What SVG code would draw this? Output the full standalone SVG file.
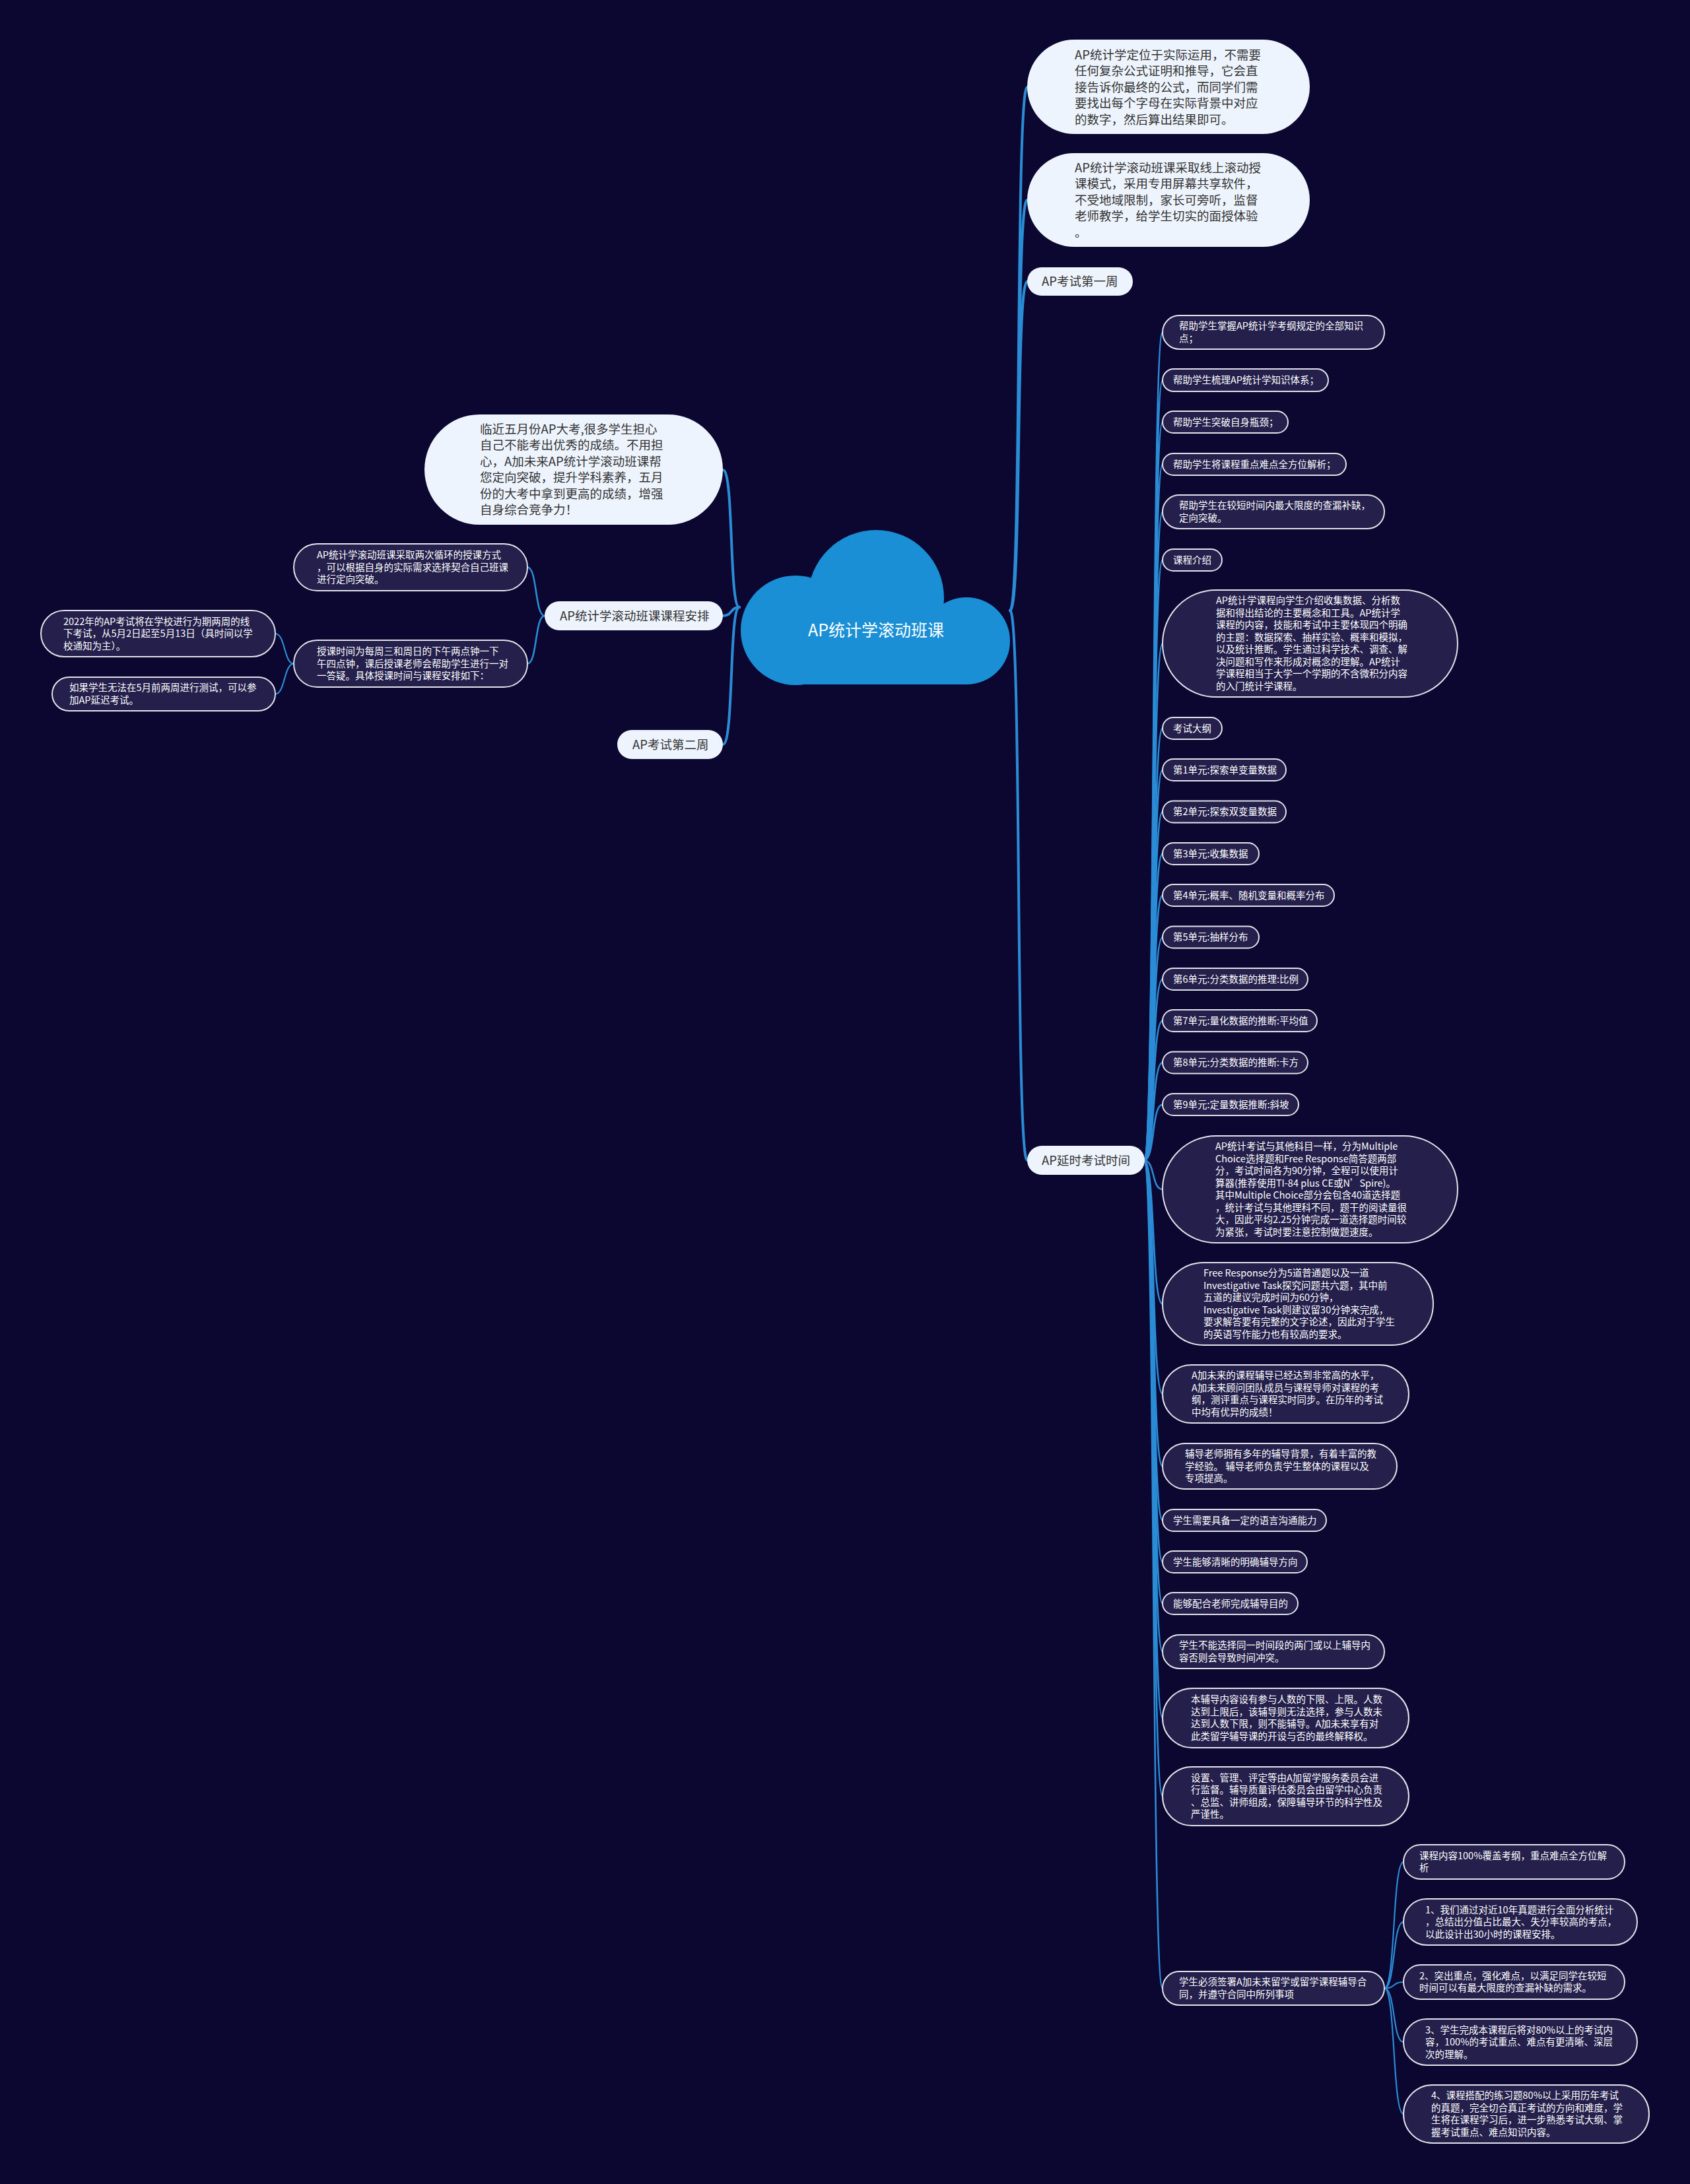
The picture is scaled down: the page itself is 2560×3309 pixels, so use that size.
<svg xmlns="http://www.w3.org/2000/svg" width="2560" height="3309" viewBox="0 0 2560 3309">
<style>
.bg{fill:#0b0730}
.conn path{fill:none;stroke:#2b8cd6;stroke-linecap:round}
.c1{stroke-width:4}
.c2{stroke-width:2.6}
.c3{stroke-width:2.2}
.light rect{fill:#eef4fd}
.dark rect{fill:#241f4b;stroke:#e2e2ea;stroke-width:2}
.lt{font-family:"Noto Sans CJK SC","Noto Sans",sans-serif;font-size:18.5px;fill:#333333}
.dt{font-family:"Noto Sans CJK SC","Noto Sans",sans-serif;font-size:14.5px;fill:#ffffff}
.rt{font-family:"Noto Sans CJK SC","Noto Sans",sans-serif;font-size:25px;fill:#ffffff}
.cloud{fill:#1a8fd5}
</style>
<rect class="bg" x="0" y="0" width="2560" height="3309"/>

<g id="connectors" class="conn">
<!-- root right -->
<path class="c1" d="M1530 925 C1548 925 1538 132 1556 132"/>
<path class="c1" d="M1530 925 C1548 925 1538 303 1556 303"/>
<path class="c1" d="M1530 925 C1548 925 1538 426.5 1556 426.5"/>
<path class="c1" d="M1530 925 C1548 925 1538 1758 1556 1758"/>
<!-- root left -->
<path class="c1" d="M1120 920 C1104 920 1112 712 1095 712"/>
<path class="c1" d="M1120 920 C1106 920 1110 933 1095 933"/>
<path class="c1" d="M1120 920 C1104 920 1112 1128 1095 1128"/>
<!-- left level 2 -->
<path class="c2" d="M825 933 C810 933 814 859.5 799 859.5"/>
<path class="c2" d="M825 933 C810 933 814 1005.5 799 1005.5"/>
<!-- left level 3 -->
<path class="c3" d="M445 1005.5 C430 1005.5 432 960 417 960"/>
<path class="c3" d="M445 1005.5 C430 1005.5 432 1051.5 417 1051.5"/>
<!-- AP延时考试时间 children -->
<path class="c2" d="M1733 1758 C1750 1758 1744 503.5 1761 503.5"/>
<path class="c2" d="M1733 1758 C1750 1758 1744 576 1761 576"/>
<path class="c2" d="M1733 1758 C1750 1758 1744 639.5 1761 639.5"/>
<path class="c2" d="M1733 1758 C1750 1758 1744 703.5 1761 703.5"/>
<path class="c2" d="M1733 1758 C1750 1758 1744 775.5 1761 775.5"/>
<path class="c2" d="M1733 1758 C1750 1758 1744 848.5 1761 848.5"/>
<path class="c2" d="M1733 1758 C1750 1758 1744 975 1761 975"/>
<path class="c2" d="M1733 1758 C1750 1758 1744 1103.5 1761 1103.5"/>
<path class="c2" d="M1733 1758 C1750 1758 1744 1166.5 1761 1166.5"/>
<path class="c2" d="M1733 1758 C1750 1758 1744 1230 1761 1230"/>
<path class="c2" d="M1733 1758 C1750 1758 1744 1293.5 1761 1293.5"/>
<path class="c2" d="M1733 1758 C1750 1758 1744 1356.5 1761 1356.5"/>
<path class="c2" d="M1733 1758 C1750 1758 1744 1420 1761 1420"/>
<path class="c2" d="M1733 1758 C1750 1758 1744 1483.5 1761 1483.5"/>
<path class="c2" d="M1733 1758 C1750 1758 1744 1546.5 1761 1546.5"/>
<path class="c2" d="M1733 1758 C1750 1758 1744 1610 1761 1610"/>
<path class="c2" d="M1733 1758 C1750 1758 1744 1673.5 1761 1673.5"/>
<path class="c2" d="M1733 1758 C1750 1758 1744 1802 1761 1802"/>
<path class="c2" d="M1733 1758 C1750 1758 1744 1975.5 1761 1975.5"/>
<path class="c2" d="M1733 1758 C1750 1758 1744 2112 1761 2112"/>
<path class="c2" d="M1733 1758 C1750 1758 1744 2221.5 1761 2221.5"/>
<path class="c2" d="M1733 1758 C1750 1758 1744 2303.5 1761 2303.5"/>
<path class="c2" d="M1733 1758 C1750 1758 1744 2366.5 1761 2366.5"/>
<path class="c2" d="M1733 1758 C1750 1758 1744 2429.5 1761 2429.5"/>
<path class="c2" d="M1733 1758 C1750 1758 1744 2502.5 1761 2502.5"/>
<path class="c2" d="M1733 1758 C1750 1758 1744 2603 1761 2603"/>
<path class="c2" d="M1733 1758 C1750 1758 1744 2721.5 1761 2721.5"/>
<path class="c2" d="M1733 1758 C1750 1758 1744 3012.5 1761 3012.5"/>
<!-- 学生必须签署 children -->
<path class="c3" d="M2097 3012.5 C2114 3012.5 2109 2821 2126 2821"/>
<path class="c3" d="M2097 3012.5 C2114 3012.5 2109 2912 2126 2912"/>
<path class="c3" d="M2097 3012.5 C2114 3012.5 2109 3003 2126 3003"/>
<path class="c3" d="M2097 3012.5 C2114 3012.5 2109 3094 2126 3094"/>
<path class="c3" d="M2097 3012.5 C2114 3012.5 2109 3203 2126 3203"/>
</g>

<g id="root">
<circle class="cloud" cx="1205" cy="955" r="83"/>
<circle class="cloud" cx="1327" cy="906" r="103"/>
<circle class="cloud" cx="1464" cy="971" r="66"/>
<rect class="cloud" x="1205" y="930" width="259" height="107"/>
<text class="rt" x="1327" y="964" text-anchor="middle">AP统计学滚动班课</text>
</g>

<!-- right light nodes -->
<g id="n-r1" class="light">
<rect x="1556" y="60" width="428" height="143" rx="71.5"/>
<text class="lt"><tspan x="1628" y="89.6">AP统计学定位于实际运用，不需要</tspan><tspan x="1628" y="114.1">任何复杂公式证明和推导，它会直</tspan><tspan x="1628" y="138.6">接告诉你最终的公式，而同学们需</tspan><tspan x="1628" y="163.1">要找出每个字母在实际背景中对应</tspan><tspan x="1628" y="187.6">的数字，然后算出结果即可。</tspan></text>
</g>
<g id="n-r2" class="light">
<rect x="1556" y="232" width="428" height="142" rx="71"/>
<text class="lt"><tspan x="1628" y="260.6">AP统计学滚动班课采取线上滚动授</tspan><tspan x="1628" y="285.1">课模式，采用专用屏幕共享软件，</tspan><tspan x="1628" y="309.6">不受地域限制，家长可旁听，监督</tspan><tspan x="1628" y="334.1">老师教学，给学生切实的面授体验</tspan><tspan x="1628" y="358.6">。</tspan></text>
</g>
<g id="n-week1" class="light">
<rect x="1556" y="405" width="160" height="43" rx="21.5"/>
<text class="lt" x="1578" y="433.1">AP考试第一周</text>
</g>
<g id="n-delay" class="light">
<rect x="1556" y="1736" width="178" height="44" rx="22"/>
<text class="lt" x="1578" y="1764.6">AP延时考试时间</text>
</g>

<!-- left light nodes -->
<g id="n-l0" class="light">
<rect x="643" y="628" width="452" height="167" rx="83.5"/>
<text class="lt"><tspan x="727" y="656.85">临近五月份AP大考,很多学生担心</tspan><tspan x="727" y="681.35">自己不能考出优秀的成绩。不用担</tspan><tspan x="727" y="705.85">心，A加未来AP统计学滚动班课帮</tspan><tspan x="727" y="730.35">您定向突破，提升学科素养，五月</tspan><tspan x="727" y="754.85">份的大考中拿到更高的成绩，增强</tspan><tspan x="727" y="779.35">自身综合竞争力！</tspan></text>
</g>
<g id="n-arr" class="light">
<rect x="825" y="911" width="270" height="44" rx="22"/>
<text class="lt" x="848" y="939.6">AP统计学滚动班课课程安排</text>
</g>
<g id="n-week2" class="light">
<rect x="935" y="1106" width="160" height="44" rx="22"/>
<text class="lt" x="958" y="1134.6">AP考试第二周</text>
</g>

<!-- left dark nodes -->
<g id="n-l1" class="dark">
<rect x="445" y="824" width="354" height="71" rx="35.5"/>
<text class="dt"><tspan x="480" y="846.2">AP统计学滚动班课采取两次循环的授课方式</tspan><tspan x="480" y="864.7">，可以根据自身的实际需求选择契合自己班课</tspan><tspan x="480" y="883.2">进行定向突破。</tspan></text>
</g>
<g id="n-l2" class="dark">
<rect x="445" y="970" width="354" height="71" rx="35.5"/>
<text class="dt"><tspan x="480" y="992.2">授课时间为每周三和周日的下午两点钟一下</tspan><tspan x="480" y="1010.7">午四点钟，课后授课老师会帮助学生进行一对</tspan><tspan x="480" y="1029.2">一答疑。具体授课时间与课程安排如下：</tspan></text>
</g>
<g id="n-fl1" class="dark">
<rect x="62" y="925" width="355" height="70" rx="35"/>
<text class="dt"><tspan x="96" y="946.7">2022年的AP考试将在学校进行为期两周的线</tspan><tspan x="96" y="965.2">下考试，从5月2日起至5月13日（具时间以学</tspan><tspan x="96" y="983.7">校通知为主）。</tspan></text>
</g>
<g id="n-fl2" class="dark">
<rect x="79" y="1026" width="338" height="51" rx="25.5"/>
<text class="dt"><tspan x="105" y="1047.45">如果学生无法在5月前两周进行测试，可以参</tspan><tspan x="105" y="1065.95">加AP延迟考试。</tspan></text>
</g>

<!-- right dark nodes -->
<g id="n-d1" class="dark">
<rect x="1761" y="478" width="336" height="51" rx="25.5"/>
<text class="dt"><tspan x="1786" y="499.45">帮助学生掌握AP统计学考纲规定的全部知识</tspan><tspan x="1786" y="517.95">点；</tspan></text>
</g>
<g id="n-d2" class="dark">
<rect x="1761" y="559" width="251" height="34" rx="17"/>
<text class="dt" x="1777" y="581.2">帮助学生梳理AP统计学知识体系；</text>
</g>
<g id="n-d3" class="dark">
<rect x="1761" y="623" width="190" height="33" rx="16.5"/>
<text class="dt" x="1777" y="644.7">帮助学生突破自身瓶颈；</text>
</g>
<g id="n-d4" class="dark">
<rect x="1761" y="687" width="278" height="33" rx="16.5"/>
<text class="dt" x="1777" y="708.7">帮助学生将课程重点难点全方位解析；</text>
</g>
<g id="n-d5" class="dark">
<rect x="1761" y="750" width="336" height="51" rx="25.5"/>
<text class="dt"><tspan x="1786" y="771.45">帮助学生在较短时间内最大限度的查漏补缺，</tspan><tspan x="1786" y="789.95">定向突破。</tspan></text>
</g>
<g id="n-d6" class="dark">
<rect x="1761" y="832" width="90" height="33" rx="16.5"/>
<text class="dt" x="1777" y="853.7">课程介绍</text>
</g>
<g id="n-d7" class="dark">
<rect x="1761" y="894" width="447" height="162" rx="81"/>
<text class="dt"><tspan x="1842" y="915.45">AP统计学课程向学生介绍收集数据、分析数</tspan><tspan x="1842" y="933.95">据和得出结论的主要概念和工具。AP统计学</tspan><tspan x="1842" y="952.45">课程的内容，技能和考试中主要体现四个明确</tspan><tspan x="1842" y="970.95">的主题：数据探索、抽样实验、概率和模拟，</tspan><tspan x="1842" y="989.45">以及统计推断。学生通过科学技术、调查、解</tspan><tspan x="1842" y="1007.95">决问题和写作来形成对概念的理解。AP统计</tspan><tspan x="1842" y="1026.45">学课程相当于大学一个学期的不含微积分内容</tspan><tspan x="1842" y="1044.95">的入门统计学课程。</tspan></text>
</g>
<g id="n-d8" class="dark">
<rect x="1761" y="1087" width="90" height="33" rx="16.5"/>
<text class="dt" x="1777" y="1108.7">考试大纲</text>
</g>
<g id="n-u1" class="dark">
<rect x="1761" y="1150" width="187" height="33" rx="16.5"/>
<text class="dt" x="1777" y="1171.7">第1单元:探索单变量数据</text>
</g>
<g id="n-u2" class="dark">
<rect x="1761" y="1213.5" width="187" height="33" rx="16.5"/>
<text class="dt" x="1777" y="1235.2">第2单元:探索双变量数据</text>
</g>
<g id="n-u3" class="dark">
<rect x="1761" y="1277" width="146" height="33" rx="16.5"/>
<text class="dt" x="1777" y="1298.7">第3单元:收集数据</text>
</g>
<g id="n-u4" class="dark">
<rect x="1761" y="1340" width="260" height="33" rx="16.5"/>
<text class="dt" x="1777" y="1361.7">第4单元:概率、随机变量和概率分布</text>
</g>
<g id="n-u5" class="dark">
<rect x="1761" y="1403.5" width="146" height="33" rx="16.5"/>
<text class="dt" x="1777" y="1425.2">第5单元:抽样分布</text>
</g>
<g id="n-u6" class="dark">
<rect x="1761" y="1467" width="220" height="33" rx="16.5"/>
<text class="dt" x="1777" y="1488.7">第6单元:分类数据的推理:比例</text>
</g>
<g id="n-u7" class="dark">
<rect x="1761" y="1530" width="234" height="33" rx="16.5"/>
<text class="dt" x="1777" y="1551.7">第7单元:量化数据的推断:平均值</text>
</g>
<g id="n-u8" class="dark">
<rect x="1761" y="1593.5" width="220" height="33" rx="16.5"/>
<text class="dt" x="1777" y="1615.2">第8单元:分类数据的推断:卡方</text>
</g>
<g id="n-u9" class="dark">
<rect x="1761" y="1657" width="206" height="33" rx="16.5"/>
<text class="dt" x="1777" y="1678.7">第9单元:定量数据推断:斜坡</text>
</g>
<g id="n-e1" class="dark">
<rect x="1761" y="1721" width="447" height="162" rx="81"/>
<text class="dt"><tspan x="1841" y="1742.45">AP统计考试与其他科目一样，分为Multiple</tspan><tspan x="1841" y="1760.95">Choice选择题和Free Response简答题两部</tspan><tspan x="1841" y="1779.45">分，考试时间各为90分钟，全程可以使用计</tspan><tspan x="1841" y="1797.95">算器(推荐使用TI-84 plus CE或N’Spire)。</tspan><tspan x="1841" y="1816.45">其中Multiple Choice部分会包含40道选择题</tspan><tspan x="1841" y="1834.95">，统计考试与其他理科不同，题干的阅读量很</tspan><tspan x="1841" y="1853.45">大，因此平均2.25分钟完成一道选择题时间较</tspan><tspan x="1841" y="1871.95">为紧张，考试时要注意控制做题速度。</tspan></text>
</g>
<g id="n-e2" class="dark">
<rect x="1761" y="1913" width="410" height="125" rx="62.5"/>
<text class="dt"><tspan x="1823" y="1934.45">Free Response分为5道普通题以及一道</tspan><tspan x="1823" y="1952.95">Investigative Task探究问题共六题，其中前</tspan><tspan x="1823" y="1971.45">五道的建议完成时间为60分钟，</tspan><tspan x="1823" y="1989.95">Investigative Task则建议留30分钟来完成，</tspan><tspan x="1823" y="2008.45">要求解答要有完整的文字论述，因此对于学生</tspan><tspan x="1823" y="2026.95">的英语写作能力也有较高的要求。</tspan></text>
</g>
<g id="n-e3" class="dark">
<rect x="1761" y="2068" width="373" height="88" rx="44"/>
<text class="dt"><tspan x="1805" y="2089.45">A加未来的课程辅导已经达到非常高的水平，</tspan><tspan x="1805" y="2107.95">A加未来顾问团队成员与课程导师对课程的考</tspan><tspan x="1805" y="2126.45">纲，测评重点与课程实时同步。在历年的考试</tspan><tspan x="1805" y="2144.95">中均有优异的成绩！</tspan></text>
</g>
<g id="n-e4" class="dark">
<rect x="1761" y="2187" width="355" height="69" rx="34.5"/>
<text class="dt"><tspan x="1795" y="2208.2">辅导老师拥有多年的辅导背景，有着丰富的教</tspan><tspan x="1795" y="2226.7">学经验。 辅导老师负责学生整体的课程以及</tspan><tspan x="1795" y="2245.2">专项提高。</tspan></text>
</g>
<g id="n-e5" class="dark">
<rect x="1761" y="2287" width="248" height="33" rx="16.5"/>
<text class="dt" x="1777" y="2308.7">学生需要具备一定的语言沟通能力</text>
</g>
<g id="n-e6" class="dark">
<rect x="1761" y="2350" width="219" height="33" rx="16.5"/>
<text class="dt" x="1777" y="2371.7">学生能够清晰的明确辅导方向</text>
</g>
<g id="n-e7" class="dark">
<rect x="1761" y="2413" width="205" height="33" rx="16.5"/>
<text class="dt" x="1777" y="2434.7">能够配合老师完成辅导目的</text>
</g>
<g id="n-e8" class="dark">
<rect x="1761" y="2477" width="336" height="51" rx="25.5"/>
<text class="dt"><tspan x="1786" y="2498.45">学生不能选择同一时间段的两门或以上辅导内</tspan><tspan x="1786" y="2516.95">容否则会导致时间冲突。</tspan></text>
</g>
<g id="n-e9" class="dark">
<rect x="1761" y="2558" width="373" height="90" rx="45"/>
<text class="dt"><tspan x="1804" y="2580.45">本辅导内容设有参与人数的下限、上限。人数</tspan><tspan x="1804" y="2598.95">达到上限后，该辅导则无法选择，参与人数未</tspan><tspan x="1804" y="2617.45">达到人数下限，则不能辅导。A加未来享有对</tspan><tspan x="1804" y="2635.95">此类留学辅导课的开设与否的最终解释权。</tspan></text>
</g>
<g id="n-e10" class="dark">
<rect x="1761" y="2677" width="373" height="89" rx="44.5"/>
<text class="dt"><tspan x="1804" y="2698.95">设置、管理、评定等由A加留学服务委员会进</tspan><tspan x="1804" y="2717.45">行监督。辅导质量评估委员会由留学中心负责</tspan><tspan x="1804" y="2735.95">、总监、讲师组成，保障辅导环节的科学性及</tspan><tspan x="1804" y="2754.45">严谨性。</tspan></text>
</g>
<g id="n-e11" class="dark">
<rect x="1761" y="2987" width="336" height="51" rx="25.5"/>
<text class="dt"><tspan x="1786" y="3008.45">学生必须签署A加未来留学或留学课程辅导合</tspan><tspan x="1786" y="3026.95">同，并遵守合同中所列事项</tspan></text>
</g>
<g id="n-k0" class="dark">
<rect x="2126" y="2795" width="335" height="52" rx="26"/>
<text class="dt"><tspan x="2150" y="2816.95">课程内容100%覆盖考纲，重点难点全方位解</tspan><tspan x="2150" y="2835.45">析</tspan></text>
</g>
<g id="n-k1" class="dark">
<rect x="2126" y="2877" width="354" height="70" rx="35"/>
<text class="dt"><tspan x="2159" y="2898.7">1、我们通过对近10年真题进行全面分析统计</tspan><tspan x="2159" y="2917.2">，总结出分值占比最大、失分率较高的考点，</tspan><tspan x="2159" y="2935.7">以此设计出30小时的课程安排。</tspan></text>
</g>
<g id="n-k2" class="dark">
<rect x="2126" y="2977" width="335" height="52" rx="26"/>
<text class="dt"><tspan x="2150" y="2998.95">2、突出重点，强化难点，以满足同学在较短</tspan><tspan x="2150" y="3017.45">时间可以有最大限度的查漏补缺的需求。</tspan></text>
</g>
<g id="n-k3" class="dark">
<rect x="2126" y="3059" width="354" height="70" rx="35"/>
<text class="dt"><tspan x="2159" y="3080.7">3、学生完成本课程后将对80%以上的考试内</tspan><tspan x="2159" y="3099.2">容，100%的考试重点、难点有更清晰、深层</tspan><tspan x="2159" y="3117.7">次的理解。</tspan></text>
</g>
<g id="n-k4" class="dark">
<rect x="2126" y="3159" width="372" height="88" rx="44"/>
<text class="dt"><tspan x="2168" y="3180.45">4、课程搭配的练习题80%以上采用历年考试</tspan><tspan x="2168" y="3198.95">的真题，完全切合真正考试的方向和难度，学</tspan><tspan x="2168" y="3217.45">生将在课程学习后，进一步熟悉考试大纲、掌</tspan><tspan x="2168" y="3235.95">握考试重点、难点知识内容。</tspan></text>
</g>
</svg>
